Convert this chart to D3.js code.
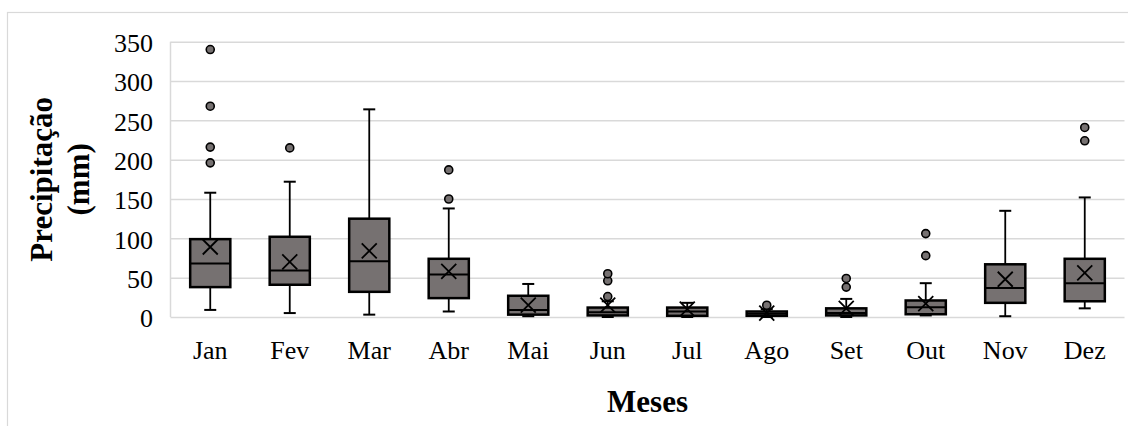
<!DOCTYPE html>
<html>
<head>
<meta charset="utf-8">
<script src="https://cdn.jsdelivr.net/npm/d3@7"></script>
<style>
  html, body { margin: 0; padding: 0; background: #fff; }
  svg { display: block; }
</style>
</head>
<body>
<svg id="chart" width="1128" height="426"></svg>
<script>
// ---- Data ----
const months    = ["Jan","Fev","Mar","Abr","Mai","Jun","Jul","Ago","Set","Out","Nov","Dez"];
const whiskerLo = [9, 5, 3, 7, 1, 0, 0, 0, 0, 2, 1, 11];
const q1        = [38, 41, 32, 24, 3, 2, 1.5, 1.5, 2, 3.5, 18, 20];
const medians   = [68, 59, 71, 54, 9, 6, 7, 4, 5, 12.5, 37, 43];
const q3        = [99, 102, 125, 74, 27, 12, 12, 7, 11, 21, 67, 74];
const whiskerHi = [158, 172, 264, 138, 42, 20, 18, 10, 23, 43, 135, 152];
const means     = [89, 70, 84, 58, 15, 15, 10, 5, 11, 17, 48, 56];
const outliers  = [[196, 216, 268, 340], [215], [], [150, 187], [], [26, 46, 55], [], [15], [38, 49], [78, 106], [], [224, 241]];
const yTicks    = [0, 50, 100, 150, 200, 250, 300, 350];
const yTitle    = ["Precipitação", "(mm)"];
const xTitle    = "Meses";

// ---- Layout ----
const plot = { left: 170.5, right: 1124.5, top: 41.7, bottom: 317 };
const fill = "#767171";
const gridColor = "#d9d9d9";
const font = "'Liberation Serif', 'Times New Roman', serif";

const svg = d3.select("#chart");

// outer chart frame (light grey)
svg.append("rect")
  .attr("x", 7.5).attr("y", 12.5)
  .attr("width", 1200).attr("height", 500)
  .attr("fill", "#fff").attr("stroke", gridColor).attr("stroke-width", 1.2);

const x = d3.scaleBand().domain(months).range([plot.left, plot.right]).padding(0);
const y = d3.scaleLinear().domain([0, 350]).range([plot.bottom, plot.top]);

// y axis with gridlines
const yAxis = d3.axisLeft(y)
  .tickValues(yTicks)
  .tickSize(-(plot.right - plot.left))
  .tickPadding(17.5)
  .tickFormat(d3.format("d"));
const yg = svg.append("g").attr("transform", `translate(${plot.left},0)`).call(yAxis);
yg.select(".domain").remove();
yg.selectAll(".tick line").attr("stroke", gridColor).attr("stroke-width", 1.5);
yg.selectAll(".tick text")
  .attr("font-family", font).attr("font-size", 26).attr("fill", "#000").attr("dy", "0.38em");

// left vertical axis line
svg.append("line")
  .attr("x1", plot.left).attr("x2", plot.left)
  .attr("y1", plot.top).attr("y2", plot.bottom)
  .attr("stroke", gridColor).attr("stroke-width", 1.5);

// x axis labels
const xAxis = d3.axisBottom(x).tickSize(0).tickPadding(23.5);
const xg = svg.append("g").attr("transform", `translate(0,${plot.bottom})`).call(xAxis);
xg.select(".domain").remove();
xg.selectAll(".tick text")
  .attr("font-family", font).attr("font-size", 26).attr("fill", "#000");

// ---- Boxes ----
const bw = x.bandwidth();
const boxW = bw * 0.505;
const capW = 12;

months.forEach((m, i) => {
  const cx = x(m) + bw / 2;
  const g = svg.append("g");
  // whiskers
  g.append("line")
    .attr("x1", cx).attr("x2", cx)
    .attr("y1", y(whiskerHi[i])).attr("y2", y(q3[i]))
    .attr("stroke", "#000").attr("stroke-width", 1.8);
  g.append("line")
    .attr("x1", cx).attr("x2", cx)
    .attr("y1", y(q1[i])).attr("y2", y(whiskerLo[i]))
    .attr("stroke", "#000").attr("stroke-width", 1.8);
  [whiskerHi[i], whiskerLo[i]].forEach(v => {
    g.append("line")
      .attr("x1", cx - capW / 2).attr("x2", cx + capW / 2)
      .attr("y1", y(v)).attr("y2", y(v))
      .attr("stroke", "#000").attr("stroke-width", 2);
  });
  // box
  g.append("rect")
    .attr("x", cx - boxW / 2).attr("width", boxW)
    .attr("y", y(q3[i])).attr("height", y(q1[i]) - y(q3[i]))
    .attr("fill", fill).attr("stroke", "#000").attr("stroke-width", 2.5);
  // median
  g.append("line")
    .attr("x1", cx - boxW / 2).attr("x2", cx + boxW / 2)
    .attr("y1", y(medians[i])).attr("y2", y(medians[i]))
    .attr("stroke", "#000").attr("stroke-width", 2);
  // mean marker (X)
  const my = y(means[i]), s = 7.5;
  g.append("path")
    .attr("d", `M${cx - s},${my - s}L${cx + s},${my + s}M${cx - s},${my + s}L${cx + s},${my - s}`)
    .attr("stroke", "#000").attr("stroke-width", 1.8).attr("fill", "none");
  // outliers
  g.selectAll("circle").data(outliers[i]).join("circle")
    .attr("cx", cx).attr("cy", d => y(d)).attr("r", 4)
    .attr("fill", fill).attr("stroke", "#000").attr("stroke-width", 1.6);
});

// ---- Axis titles ----
const yt = svg.append("text")
  .attr("transform", `translate(0,${(plot.top + plot.bottom) / 2}) rotate(-90)`)
  .attr("text-anchor", "middle")
  .attr("font-family", font).attr("font-size", 31).attr("font-weight", "bold").attr("fill", "#000");
yt.append("tspan").attr("x", 0).attr("y", 51.5).text(yTitle[0]);
yt.append("tspan").attr("x", 0).attr("y", 88.5).text(yTitle[1]);

svg.append("text")
  .attr("x", (plot.left + plot.right) / 2).attr("y", 412)
  .attr("text-anchor", "middle")
  .attr("font-family", font).attr("font-size", 31).attr("font-weight", "bold").attr("fill", "#000")
  .text(xTitle);
</script>
</body>
</html>
